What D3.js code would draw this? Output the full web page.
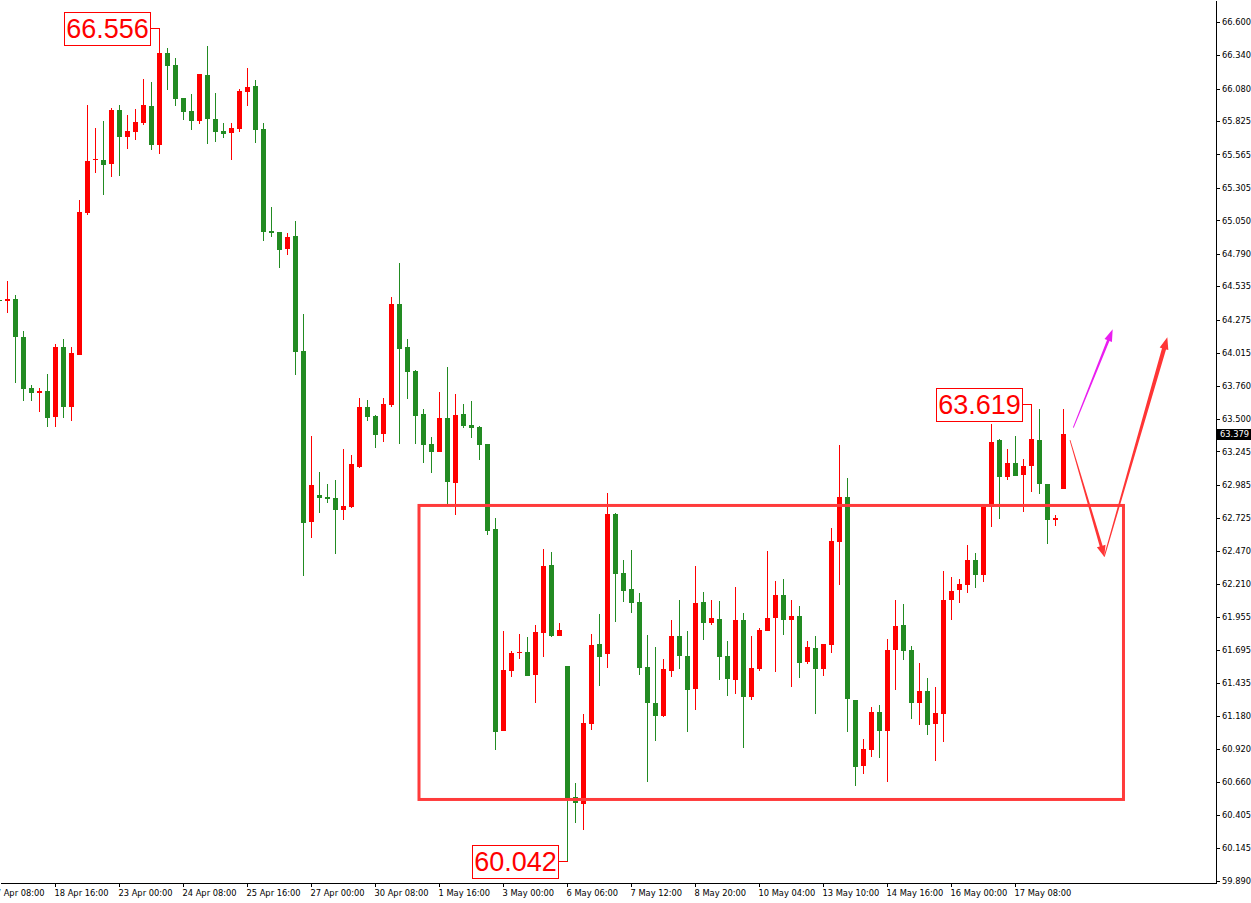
<!DOCTYPE html>
<html><head><meta charset="utf-8">
<script src="https://cdn.jsdelivr.net/npm/d3@7"></script>
<style>html,body{margin:0;padding:0;background:#fff;overflow:hidden}</style>
</head><body>
<svg id="chart" width="1251" height="903"></svg>
<script>
// ---------- DATA ----------
const firstBar = -1; // index of the first (partly hidden) bar
const openP = [64.432,64.424,64.436,64.139,63.741,63.702,63.717,63.514,64.061,63.592,63.999,65.108,65.518,65.522,65.491,65.913,65.702,65.741,65.811,65.944,65.639,66.358,66.264,66.006,65.905,65.827,66.186,65.842,65.749,65.733,65.764,66.053,66.100,65.764,64.967,64.959,64.827,64.928,64.030,62.694,62.905,62.889,62.881,62.788,62.811,63.124,63.592,63.522,63.381,63.608,64.397,64.061,63.874,63.538,63.303,63.241,63.506,62.999,63.538,63.452,63.436,63.303,62.639,61.061,61.530,61.670,61.678,61.499,61.827,62.358,61.803,61.569,60.545,60.491,61.116,61.741,61.663,62.756,62.295,62.170,62.069,61.561,61.280,61.178,61.530,61.803,61.647,61.389,62.069,61.905,61.936,61.647,61.460,61.928,61.327,61.545,61.842,61.944,62.124,61.928,61.960,61.600,61.710,61.545,61.733,62.538,62.889,61.303,60.788,60.913,61.210,61.061,61.694,61.889,61.694,61.280,61.370,61.112,61.192,62.084,62.163,62.201,62.398,62.281,62.810,63.335,63.046,63.158,63.061,63.132,63.332,62.989,62.712,62.952];
const highP = [64.450,64.577,64.467,64.186,63.764,63.741,63.850,64.084,64.124,64.061,65.209,65.952,65.772,65.827,65.928,65.952,65.874,65.920,66.155,66.131,66.556,66.397,66.319,66.006,66.038,66.194,66.413,66.045,65.811,65.811,66.077,66.241,66.147,65.811,65.155,64.959,64.952,65.045,64.319,63.366,63.084,62.991,63.022,63.264,63.217,63.663,63.647,63.530,63.663,64.452,64.717,64.124,63.881,63.577,63.358,63.710,63.905,63.694,63.616,63.639,63.444,63.303,62.725,61.842,61.686,61.819,61.795,61.889,62.483,62.460,61.905,61.569,60.655,61.194,61.819,61.975,62.920,62.764,62.397,62.475,62.139,61.811,61.717,61.624,61.928,62.084,61.842,62.350,62.147,62.084,62.077,61.764,62.186,61.983,61.803,61.866,62.467,62.233,62.249,62.084,62.038,61.764,61.803,61.741,62.647,63.295,63.038,61.303,60.999,61.249,61.264,61.780,62.084,62.053,61.725,61.592,61.478,61.406,62.310,62.267,62.249,62.515,62.449,62.810,63.463,63.344,63.261,63.363,63.184,63.619,63.578,62.989,62.749,63.578];
const lowP = [64.405,64.327,63.780,63.639,63.639,63.553,63.436,63.436,63.506,63.483,63.999,65.092,65.420,65.249,65.389,65.397,65.608,65.678,65.795,65.600,65.569,66.069,65.944,65.834,65.756,65.803,65.647,65.663,65.694,65.522,65.741,65.944,65.655,64.889,64.920,64.678,64.780,63.842,62.272,62.569,62.764,62.842,62.444,62.710,62.803,63.116,63.483,63.272,63.319,63.592,63.303,63.655,63.303,63.155,63.077,63.241,62.834,62.749,63.428,63.350,63.178,62.592,60.913,61.061,61.483,61.624,61.491,61.280,61.639,61.795,61.803,60.042,60.342,60.288,61.069,61.413,61.553,61.913,62.069,61.983,61.499,60.663,60.983,61.170,61.483,61.545,61.053,61.225,61.772,61.889,61.460,61.335,61.350,60.928,61.303,61.530,61.842,61.522,61.811,61.405,61.475,61.585,61.194,61.491,61.670,62.202,61.053,60.631,60.725,60.858,60.850,60.663,61.381,61.616,61.155,61.108,61.027,60.827,60.978,61.927,62.061,62.138,62.178,62.224,62.655,62.718,63.018,63.055,62.772,62.929,62.912,62.522,62.663,62.952];
const closeP = [64.424,64.436,64.139,63.733,63.702,63.717,63.506,64.061,63.592,64.014,65.116,65.514,65.526,65.483,65.913,65.702,65.749,65.819,65.952,65.639,66.358,66.256,65.999,65.897,65.827,66.194,65.842,65.741,65.725,65.772,66.061,66.092,65.756,64.959,64.952,64.819,64.920,64.022,62.686,62.983,62.881,62.874,62.788,62.819,63.147,63.592,63.514,63.374,63.616,64.397,64.045,63.866,63.522,63.295,63.241,63.506,63.006,63.530,63.444,63.428,63.295,62.624,61.053,61.538,61.670,61.678,61.491,61.835,62.350,61.803,61.850,60.538,60.499,61.124,61.733,61.639,62.756,62.288,62.155,62.061,61.553,61.280,61.178,61.545,61.803,61.647,61.381,62.061,61.905,61.944,61.639,61.467,61.928,61.327,61.553,61.850,61.944,62.124,61.928,61.960,61.592,61.717,61.545,61.741,62.545,62.889,61.311,60.780,60.920,61.210,61.061,61.694,61.881,61.686,61.280,61.374,61.108,61.198,62.087,62.158,62.206,62.398,62.281,62.810,63.315,63.046,63.158,63.055,63.135,63.341,62.992,62.710,62.727,63.379];

const yTickValues = [66.600,66.340,66.080,65.825,65.565,65.305,65.050,64.790,64.535,64.275,64.015,63.760,63.500,63.245,62.985,62.725,62.470,62.210,61.955,61.695,61.435,61.180,60.920,60.660,60.405,60.145,59.890];
const xTickBars = [-2,6,14,22,30,38,46,54,62,70,78,86,94,102,110,118,126];
const xTickLabels = ["17 Apr 08:00","18 Apr 16:00","23 Apr 00:00","24 Apr 08:00","25 Apr 16:00","27 Apr 00:00","30 Apr 08:00","1 May 16:00","3 May 00:00","6 May 06:00","7 May 12:00","8 May 20:00","10 May 04:00","13 May 10:00","14 May 16:00","16 May 00:00","17 May 08:00"];

const markPrices = [66.556, 60.042, 63.619];
const markBars = [19, 70, 128];

const zoneBars = [51.5, 139.56];
const zonePrices = [62.823, 60.526];

const lastPrice = 63.379;

const arrowFromBar = [133.29, 132.875, 137.16];
const arrowFromPrice = [63.431, 63.334, 62.423];
const arrowToBar = [138.21, 137.16, 145.04];
const arrowToPrice = [64.199, 62.423, 64.137];
const arrowColors = ["#ea1ef0", "#ff3535", "#ff3535"];

// ---------- LAYOUT ----------
const plotRight = 1216, plotBottom = 883;
const svg = d3.select("#chart");
svg.append("rect").attr("width",1251).attr("height",903).attr("fill","#fff");

const x = d3.scaleLinear().domain([-0.875, 151.125]).range([0, plotRight]);
const y = d3.scaleLinear().domain([59.8734, 66.7719]).range([plotBottom, 0]);

const bars = openP.map((o,i)=>({k: firstBar+i, o, h: highP[i], l: lowP[i], c: closeP[i]}));

svg.append("defs").append("clipPath").attr("id","plotclip")
  .append("rect").attr("x",0).attr("y",0).attr("width",plotRight).attr("height",plotBottom);

const plot = svg.append("g").attr("clip-path","url(#plotclip)");
const UP = "#ff0000", DOWN = "#228b22";

const cg = plot.append("g").attr("shape-rendering","crispEdges");
const candle = cg.selectAll("g.c").data(bars).join("g").attr("class","c");
candle.append("rect")
  .attr("x", d => Math.round(x(d.k)))
  .attr("y", d => Math.round(y(d.h)))
  .attr("width", 1)
  .attr("height", d => Math.max(1, Math.round(y(d.l)) - Math.round(y(d.h))))
  .attr("fill", d => d.c >= d.o ? UP : DOWN);
candle.append("rect")
  .attr("x", d => Math.round(x(d.k)) - 2)
  .attr("y", d => Math.round(y(Math.max(d.o,d.c))))
  .attr("width", 5)
  .attr("height", d => Math.max(1, Math.round(y(Math.min(d.o,d.c))) - Math.round(y(Math.max(d.o,d.c)))))
  .attr("fill", d => d.c >= d.o ? UP : DOWN);

// zone rectangle
plot.append("rect")
  .attr("x", x(zoneBars[0])).attr("y", y(zonePrices[0]))
  .attr("width", x(zoneBars[1]) - x(zoneBars[0]))
  .attr("height", y(zonePrices[1]) - y(zonePrices[0]))
  .attr("fill","none").attr("stroke","#ff3b3b").attr("stroke-width",3);

// arrows (tapered shaft + head)
function arrow(x0,y0,x1,y1,w0,w1,hl,hw,color){
  const dx=x1-x0, dy=y1-y0, L=Math.hypot(dx,dy), ux=dx/L, uy=dy/L, nx=-uy, ny=ux;
  const ex=x1-ux*hl, ey=y1-uy*hl;
  const pts=[[x0+nx*w0/2,y0+ny*w0/2],[ex+nx*w1/2,ey+ny*w1/2],[ex+nx*hw/2,ey+ny*hw/2],[x1,y1],
             [ex-nx*hw/2,ey-ny*hw/2],[ex-nx*w1/2,ey-ny*w1/2],[x0-nx*w0/2,y0-ny*w0/2]];
  plot.append("polygon").attr("points",pts.map(p=>p.join(",")).join(" ")).attr("fill",color);
}
const arrowW0=[1,0.8,1], arrowW1=[2.6,3,4.2], arrowHL=[12,11,12], arrowHW=[8,9,9];
arrowFromBar.forEach((b,i)=>{
  arrow(x(b), y(arrowFromPrice[i]), x(arrowToBar[i]), y(arrowToPrice[i]), arrowW0[i], arrowW1[i], arrowHL[i], arrowHW[i], arrowColors[i]);
});

// price labels with boxes
markPrices.forEach((p,i)=>{
  const cx = Math.round(x(markBars[i])) + 0.5;
  const cy = Math.round(y(p)) + 0.5;
  const right = cx - 9, w = 86, h = 33;
  const g = plot.append("g");
  g.append("line").attr("x1", right).attr("x2", cx).attr("y1", cy).attr("y2", cy)
    .attr("stroke","#ff0000").attr("stroke-width",1).attr("shape-rendering","crispEdges");
  g.append("rect").attr("x", right - w).attr("y", cy - h/2).attr("width", w).attr("height", h)
    .attr("fill","#fff").attr("stroke","#ff0000").attr("stroke-width",1).attr("shape-rendering","crispEdges");
  g.append("text").attr("x", right - w/2).attr("y", cy + 9.8)
    .attr("text-anchor","middle").attr("fill","#ff0000")
    .attr("font-family","'Liberation Sans', Arial, sans-serif").attr("font-size",27)
    .text(p.toFixed(3));
});

// axes
const yAxis = d3.axisRight(y).tickValues(yTickValues).tickSize(4).tickSizeOuter(0).tickPadding(2)
  .tickFormat(d3.format(".3f"));
const gy = svg.append("g").attr("transform",`translate(${plotRight},0)`).call(yAxis);
const xAxis = d3.axisBottom(x).tickValues(xTickBars).tickSize(4).tickSizeOuter(0).tickPadding(3)
  .tickFormat((d,i)=>xTickLabels[i]);
const gx = svg.append("g").attr("transform",`translate(0,${plotBottom})`).call(xAxis);
[gy,gx].forEach(g=>{
  g.attr("font-family","'DejaVu Sans', Verdana, sans-serif").attr("font-size",8.3);
  g.selectAll("path,line").attr("stroke","#000").attr("shape-rendering","crispEdges");
  g.selectAll("text").attr("fill","#000");
});
gx.selectAll(".tick text").attr("text-anchor","start").attr("x",-1);

// current price tag
const lp = y(lastPrice);
svg.append("rect").attr("x", plotRight+1).attr("y", Math.round(lp) - 5).attr("width", 1251-plotRight-1).attr("height", 11).attr("fill","#000");
svg.append("text").attr("x", plotRight+4).attr("y", lp).attr("dy","0.34em")
  .attr("fill","#fff").attr("font-family","'DejaVu Sans', Verdana, sans-serif").attr("font-size",8.3)
  .text(lastPrice.toFixed(3));
</script>
</body></html>
